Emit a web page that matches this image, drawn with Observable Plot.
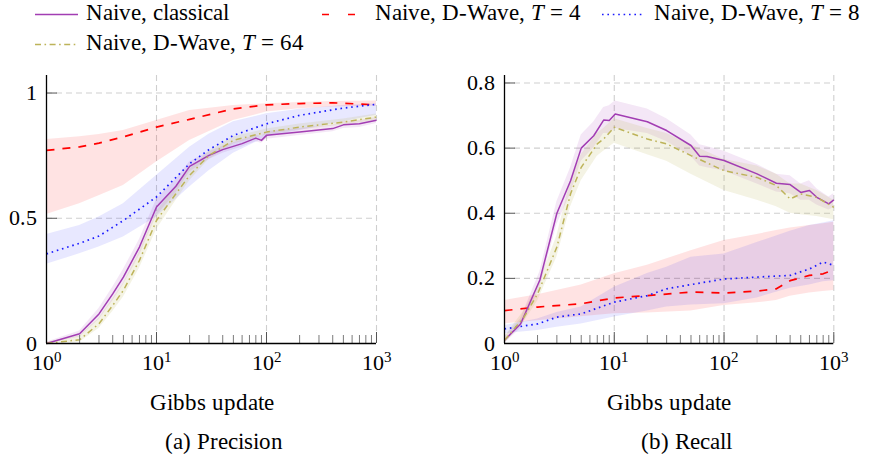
<!DOCTYPE html>
<html><head><meta charset="utf-8">
<script src="https://cdn.jsdelivr.net/npm/d3@7"></script>
<script src="https://cdn.jsdelivr.net/npm/@observablehq/plot@0.6"></script>
<style>
@font-face{font-family:"RefSerif";src:local("Liberation Serif"),local("LiberationSerif"),local("LiberationSerif-Regular"),local("DejaVu Serif"),local("DejaVuSerif"),local("Times New Roman"),local("Tinos");font-style:normal;}
@font-face{font-family:"RefSerif";src:local("Liberation Serif Italic"),local("LiberationSerif-Italic"),local("DejaVu Serif Italic"),local("DejaVuSerif-Italic");font-style:italic;}
body{margin:0;background:#fff;}
#root{position:relative;width:873px;height:457px;overflow:hidden;font-family:"RefSerif","Liberation Serif","DejaVu Serif",serif;color:#000;}
</style></head><body><div id="root"></div>
<script>
// ---------- tick values ----------
const xMajorTicks = [1, 10, 100, 1000];
const xMajorExponents = ["0", "1", "2", "3"];
const xMinorTicks = [2,3,4,5,6,7,8,9,20,30,40,50,60,70,80,90,200,300,400,500,600,700,800,900];
const precisionYTicks = [0, 0.5, 1];
const recallYTicks = [0, 0.2, 0.4, 0.6, 0.8];

// ---------- legend labels ----------
const seriesNames = ["Naive, classical", "Naive, D-Wave, T = 4", "Naive, D-Wave, T = 8", "Naive, D-Wave, T = 64"];

// ---------- Precision panel ----------
const pClassicalX  = [1, 2, 3, 4, 5, 7, 10, 15, 20, 30, 40, 60, 80, 90, 100, 200, 400, 500, 700, 1000];
const pClassicalY  = [0, 0.039, 0.118, 0.198, 0.265, 0.385, 0.545, 0.628, 0.707, 0.751, 0.774, 0.798, 0.82, 0.811, 0.831, 0.844, 0.858, 0.873, 0.877, 0.891];
const pClassicalLo = [0, 0.025, 0.095, 0.17, 0.235, 0.35, 0.51, 0.6, 0.685, 0.735, 0.76, 0.785, 0.805, 0.8, 0.815, 0.83, 0.845, 0.858, 0.862, 0.878];
const pClassicalHi = [0.005, 0.05, 0.14, 0.225, 0.295, 0.415, 0.575, 0.655, 0.725, 0.765, 0.788, 0.812, 0.832, 0.825, 0.845, 0.858, 0.872, 0.886, 0.89, 0.902];

const pT4X  = [1, 2, 3, 5, 10, 20, 50, 100, 200, 400, 1000];
const pT4Y  = [0.771, 0.785, 0.80, 0.825, 0.864, 0.895, 0.937, 0.953, 0.958, 0.961, 0.953];
const pT4Lo = [0.515, 0.558, 0.59, 0.631, 0.725, 0.81, 0.89, 0.924, 0.937, 0.944, 0.947];
const pT4Hi = [0.814, 0.825, 0.834, 0.85, 0.89, 0.93, 0.95, 0.957, 0.962, 0.966, 0.968];

const pT8X  = [1, 2, 3, 5, 10, 20, 30, 50, 100, 200, 500, 1000];
const pT8Y  = [0.358, 0.40, 0.429, 0.491, 0.585, 0.718, 0.774, 0.831, 0.877, 0.911, 0.94, 0.955];
const pT8Lo = [0.316, 0.358, 0.385, 0.425, 0.505, 0.625, 0.69, 0.76, 0.824, 0.85, 0.885, 0.911];
const pT8Hi = [0.435, 0.471, 0.505, 0.558, 0.671, 0.784, 0.835, 0.885, 0.917, 0.935, 0.95, 0.957];

const pT64X  = [1, 2, 3, 4, 5, 7, 10, 15, 20, 30, 50, 100, 200, 500, 1000];
const pT64Y  = [0, 0.015, 0.079, 0.152, 0.212, 0.332, 0.491, 0.598, 0.671, 0.751, 0.811, 0.844, 0.864, 0.884, 0.904];
const pT64Lo = [0, 0.005, 0.06, 0.128, 0.185, 0.3, 0.455, 0.57, 0.65, 0.735, 0.797, 0.832, 0.852, 0.872, 0.89];
const pT64Hi = [0.005, 0.03, 0.1, 0.178, 0.24, 0.365, 0.525, 0.628, 0.695, 0.768, 0.825, 0.856, 0.876, 0.896, 0.916];

// ---------- Recall panel ----------
const rClassicalX  = [1, 1.4, 2.1, 3, 4, 5, 6.5, 8, 9, 10.2, 20, 30, 50, 60, 70, 100, 200, 300, 400, 500, 600, 700, 900, 1000];
const rClassicalY  = [0.01, 0.06, 0.195, 0.4, 0.5, 0.6, 0.638, 0.686, 0.685, 0.705, 0.681, 0.654, 0.608, 0.575, 0.574, 0.562, 0.521, 0.492, 0.488, 0.464, 0.47, 0.449, 0.429, 0.441];
const rClassicalLo = [0.0, 0.045, 0.17, 0.365, 0.46, 0.56, 0.6, 0.645, 0.645, 0.66, 0.645, 0.62, 0.575, 0.545, 0.54, 0.53, 0.49, 0.465, 0.46, 0.44, 0.44, 0.425, 0.41, 0.418];
const rClassicalHi = [0.02, 0.075, 0.22, 0.435, 0.54, 0.64, 0.68, 0.725, 0.73, 0.745, 0.72, 0.69, 0.64, 0.61, 0.605, 0.59, 0.55, 0.52, 0.515, 0.49, 0.5, 0.475, 0.45, 0.46];

const rT4X  = [1, 2, 5, 10, 20, 50, 100, 200, 300, 400, 600, 800, 1000];
const rT4Y  = [0.101, 0.112, 0.122, 0.14, 0.147, 0.158, 0.155, 0.161, 0.168, 0.193, 0.209, 0.214, 0.226];
const rT4Lo = [0.06, 0.07, 0.082, 0.091, 0.094, 0.1, 0.117, 0.125, 0.132, 0.145, 0.155, 0.16, 0.163];
const rT4Hi = [0.132, 0.15, 0.18, 0.214, 0.24, 0.285, 0.316, 0.335, 0.347, 0.355, 0.362, 0.368, 0.372];

const rT8X  = [1, 2, 3, 5, 10, 20, 30, 50, 100, 200, 400, 600, 800, 1000];
const rT8Y  = [0.045, 0.06, 0.081, 0.091, 0.127, 0.147, 0.168, 0.181, 0.198, 0.204, 0.209, 0.229, 0.25, 0.24];
const rT8Lo = [0.03, 0.04, 0.05, 0.06, 0.081, 0.1, 0.112, 0.118, 0.122, 0.14, 0.17, 0.18, 0.19, 0.193];
const rT8Hi = [0.055, 0.075, 0.095, 0.112, 0.173, 0.215, 0.234, 0.265, 0.275, 0.31, 0.345, 0.362, 0.37, 0.377];

const rT64X  = [1, 1.5, 2, 3, 4, 5, 7, 8, 10, 20, 30, 50, 100, 200, 300, 400, 500, 700, 1000];
const rT64Y  = [0.01, 0.08, 0.152, 0.296, 0.46, 0.541, 0.613, 0.628, 0.664, 0.628, 0.613, 0.577, 0.531, 0.51, 0.485, 0.444, 0.459, 0.449, 0.418];
const rT64Lo = [0.0, 0.065, 0.13, 0.265, 0.42, 0.5, 0.575, 0.59, 0.615, 0.58, 0.56, 0.52, 0.47, 0.44, 0.42, 0.4, 0.395, 0.39, 0.38];
const rT64Hi = [0.02, 0.1, 0.175, 0.33, 0.5, 0.58, 0.645, 0.66, 0.69, 0.66, 0.645, 0.61, 0.565, 0.545, 0.52, 0.49, 0.49, 0.47, 0.44];

// ---------- styles ----------
const FONT = "RefSerif, 'Liberation Serif', 'DejaVu Serif', serif";
const styles = [
  {color: "#a23db3", fillOpacity: 0.12, dash: null, width: 1.5},
  {color: "#ff0000", fillOpacity: 0.11, dash: "8,8", width: 1.7},
  {color: "#1a1aff", fillOpacity: 0.10, dash: "1.6,3.8", width: 1.7},
  {color: "#bdb359", fillOpacity: 0.16, dash: "6,3.5,1.6,3.5", width: 1.5}
];

function table(xs, ys, lo, hi) {
  return xs.map((x, i) => ({x, y: ys[i], lo: lo[i], hi: hi[i]}));
}

function panel({series, yDomain, yTicks, width, marginLeft, marginRight}) {
  const height = 360, marginTop = 15, marginBottom = 77;
  const frameH = height - marginTop - marginBottom;
  const frameW = width - marginLeft - marginRight;
  const grid = {stroke: "#cfcfcf", strokeOpacity: 1, strokeWidth: 1.1, strokeDasharray: "6,4"};
  const marks = [
    Plot.gridX(xMajorTicks.slice(1), grid),
    Plot.gridY(yTicks.filter(d => d > 0), grid),
  ];
  series.forEach((s, i) => marks.push(Plot.areaY(s, {x: "x", y1: "lo", y2: "hi", fill: styles[i].color, fillOpacity: styles[i].fillOpacity})));
  const order = [1, 2, 0, 3];
  order.forEach(i => marks.push(Plot.line(series[i], {x: "x", y: "y", stroke: styles[i].color, strokeWidth: styles[i].width, strokeDasharray: styles[i].dash, strokeLinecap: "butt"})));
  marks.push(
    Plot.tickX(xMinorTicks, {x: d => d, insetTop: frameH - 8, stroke: "#7a7a7a", strokeWidth: 1}),
    Plot.tickX(xMajorTicks.slice(1), {x: d => d, insetTop: frameH - 11, stroke: "#555", strokeWidth: 1}),
    Plot.tickY(yTicks.filter(d => d > 0), {y: d => d, insetRight: frameW - 11, stroke: "#555", strokeWidth: 1}),
    Plot.ruleX([1], {stroke: "#000", strokeWidth: 1.3}),
    Plot.ruleY([0], {stroke: "#000", strokeWidth: 1.3}),
    Plot.axisX(xMajorTicks, {tickSize: 0, tickPadding: 11, tickFormat: () => "10", label: null, fontSize: 22, fontFamily: FONT}),
    Plot.axisY(yTicks, {tickSize: 0, tickPadding: 10, tickFormat: d => String(d), label: null, fontSize: 22, fontFamily: FONT}),
    Plot.text(["Gibbs update"], {text: d => d, frameAnchor: "bottom", dy: 66, lineAnchor: "bottom", fontSize: 23, fontFamily: FONT})
  );
  const svg = Plot.plot({
    width, height, marginLeft, marginRight, marginTop, marginBottom,
    x: {type: "log", domain: [1, 1000]},
    y: {domain: yDomain},
    style: {fontFamily: FONT, fontSize: "22px", background: "none", overflow: "visible"},
    marks
  });
  svg.querySelectorAll('[aria-label="x-axis tick label"] text').forEach((t, i) => {
    const ts = document.createElementNS("http://www.w3.org/2000/svg", "tspan");
    ts.setAttribute("dy", "-8");
    ts.setAttribute("font-size", "15");
    ts.textContent = xMajorExponents[i];
    t.appendChild(ts);
  });
  return svg;
}

const root = document.getElementById("root");

const left = panel({
  series: [table(pClassicalX, pClassicalY, pClassicalLo, pClassicalHi), table(pT4X, pT4Y, pT4Lo, pT4Hi), table(pT8X, pT8Y, pT8Lo, pT8Hi), table(pT64X, pT64Y, pT64Lo, pT64Hi)],
  yDomain: [0, 1.07], yTicks: precisionYTicks, width: 400, marginLeft: 46, marginRight: 24
});
left.style.left = "0px"; left.style.top = "60px"; left.style.position = "absolute";
root.appendChild(left);

const right = panel({
  series: [table(rClassicalX, rClassicalY, rClassicalLo, rClassicalHi), table(rT4X, rT4Y, rT4Lo, rT4Hi), table(rT8X, rT8Y, rT8Lo, rT8Hi), table(rT64X, rT64Y, rT64Lo, rT64Hi)],
  yDomain: [0, 0.823], yTicks: recallYTicks, width: 420, marginLeft: 64, marginRight: 26.7
});
right.style.left = "440px"; right.style.top = "60px"; right.style.position = "absolute";
root.appendChild(right);

// ---------- legend and captions ----------
const NS = "http://www.w3.org/2000/svg";
const over = document.createElementNS(NS, "svg");
over.setAttribute("width", 873); over.setAttribute("height", 457);
over.style.position = "absolute"; over.style.left = "0"; over.style.top = "0"; over.style.pointerEvents = "none";
over.style.fontFamily = FONT;
root.appendChild(over);

const legendItems = [
  {x1: 35, x2: 78, y: 14.5, tx: 86, ty: 20, s: 0, dash: null},
  {x1: 322, x2: 355, y: 14.5, tx: 375, ty: 20, s: 1, dash: "7,19"},
  {x1: 602, x2: 644, y: 14.5, tx: 654, ty: 20, s: 2, dash: "1.6,3.8"},
  {x1: 35, x2: 78, y: 44.5, tx: 86, ty: 50, s: 3, dash: "6,3.5,1.6,3.5"}
];
legendItems.forEach(it => {
  const st = styles[it.s];
  const l = document.createElementNS(NS, "line");
  l.setAttribute("x1", it.x1); l.setAttribute("x2", it.x2);
  l.setAttribute("y1", it.y); l.setAttribute("y2", it.y);
  l.setAttribute("stroke", st.color); l.setAttribute("stroke-width", st.width);
  if (it.dash) l.setAttribute("stroke-dasharray", it.dash);
  over.appendChild(l);
  const t = document.createElementNS(NS, "text");
  t.setAttribute("x", it.tx); t.setAttribute("y", it.ty); t.setAttribute("font-size", "23");
  const name = seriesNames[it.s];
  const m = name.match(/^(.*)T( = \d+)$/);
  if (m) {
    t.appendChild(document.createTextNode(m[1]));
    const ti = document.createElementNS(NS, "tspan"); ti.setAttribute("font-style", "italic"); ti.textContent = "T";
    t.appendChild(ti);
    t.appendChild(document.createTextNode(m[2]));
  } else t.textContent = name;
  over.appendChild(t);
});
[["(a) Precision", 224], ["(b) Recall", 686]].forEach(([txt, cx]) => {
  const t = document.createElementNS(NS, "text");
  t.setAttribute("x", cx); t.setAttribute("y", 449); t.setAttribute("text-anchor", "middle"); t.setAttribute("font-size", "23");
  t.textContent = txt;
  over.appendChild(t);
});
</script>
</body></html>
